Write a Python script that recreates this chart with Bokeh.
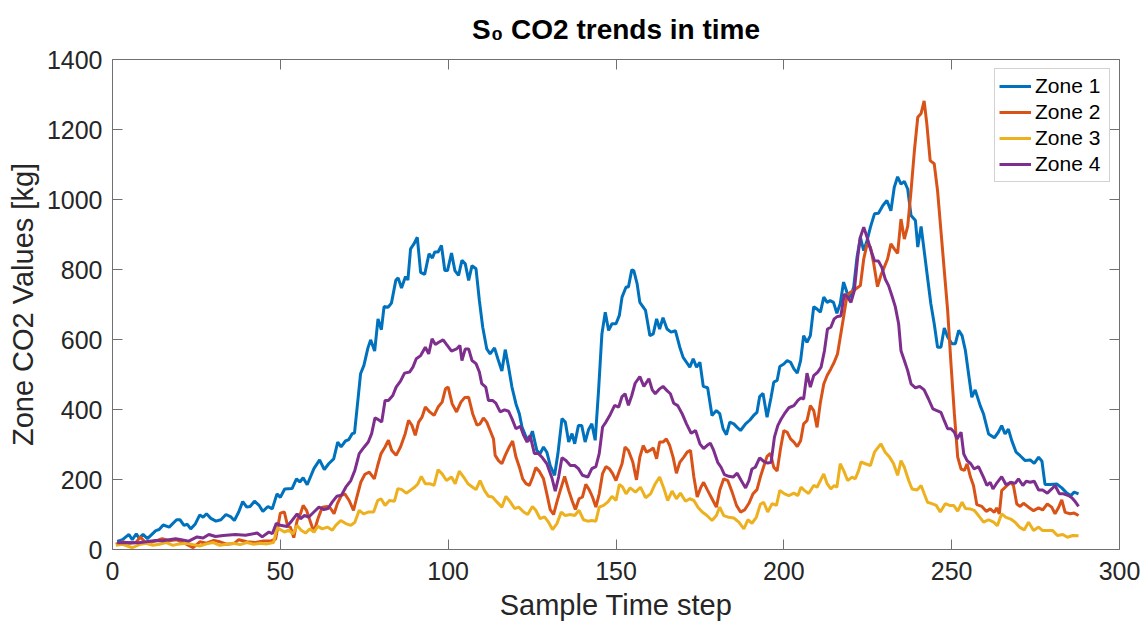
from bokeh.plotting import figure
from bokeh.models import Range1d, LinearAxis, FixedTicker, Legend, LegendItem, CustomLabelingPolicy
from bokeh.embed import file_html
from bokeh.resources import INLINE

# ---------------- data ----------------
zone1_x = [1.4, 3, 4.9, 5.9, 7.1, 7.9, 9.1, 10.4, 12.9, 13.9, 15.1, 16.9, 19.1, 20.1, 21.3, 22.3, 23.3, 24.6,
           26.0, 27.0, 28.0, 29.3, 30.8, 32.3, 33.8, 35.3, 36.3, 37.6, 38.8, 40.0, 41.0, 42.3, 43.6, 44.8, 46.3,
           47.6, 49.0, 50.0, 51.3, 53.5, 54.8, 55.8, 56.8, 58, 60, 61.7, 63.1, 64.4, 65.9, 67.1, 68.1, 69.4, 70.4,
           71.4, 72.1, 73.1, 73.9, 74.9, 76.1, 76.9, 78.1, 79.1, 80.1, 80.9, 82.1, 83.1, 84.4, 85.1, 86.1, 87.3,
           88, 88.8, 89.8, 90.8, 91.8, 93, 94.3, 95.3, 96, 97, 98, 99, 99.8, 101, 102, 103.1, 104.1, 105.1, 106.1,
           107.1, 108.3, 109.3, 110.3, 111.5, 112.5, 113.8, 114.8, 116, 117, 118, 119, 120.2, 121.2, 122, 123, 124,
           125.1, 126.4, 127.4, 128.4, 129.4, 130.4, 131.7, 132.7, 133.9, 134.9, 135.9, 136.9, 137.7, 138.8,
           139.8, 140.8, 141.8, 142.8, 143.8, 144.8, 145.8, 146.8, 147.8, 148.8, 150, 151, 151.8, 153, 153.7,
           154.7, 155.3, 156.3, 157.1, 158.8, 160.1, 161.1, 162.1, 163, 164, 165.2, 166.4, 167.7, 169, 170, 171,
           172, 173, 174, 175, 176, 177.3, 178.6, 179.9, 180.9, 181.9, 182.9, 183.9, 185.1, 186.1, 187.1, 188.6,
           189.9, 191, 192, 192.8, 193.8, 195, 196.2, 197, 198, 198.8, 200, 201, 202, 203, 204, 205, 205.9, 206.9,
           207.9, 208.9, 209.9, 210.9, 211.9, 212.9, 213.8, 214.8, 215.8, 216.8, 217.8, 218.8, 219.8, 220.8,
           221.8, 222.8, 223.8, 224.8, 225.8, 227, 228.2, 229.5, 230.7, 231.9, 232.9, 233.9, 234.9, 235.9, 236.9,
           237.9, 239.2, 239.9, 240.9, 241.8, 242.8, 243.8, 244.8, 245.8, 246.8, 247.8, 248.8, 250.1, 251.1,
           252.1, 253.1, 254.1, 255.1, 256.0, 257.0, 258.5, 259.5, 261, 262.7, 263.9, 264.9, 265.9, 266.9, 267.9,
           269.2, 270.4, 271.9, 273.4, 274.6, 275.9, 276.9, 277.8, 279.3, 281.3, 282.8, 284.3, 285.5, 286.5, 287.8]
zone1_y = [23, 28, 43, 28, 45, 32, 43, 31, 54, 57, 70, 64, 85, 85, 69, 72, 59, 72,
           99, 92, 102, 89, 81, 85, 100, 93, 83, 107, 137, 121, 123, 138, 127, 109, 123,
           116, 159, 149, 173, 174, 202, 193, 205, 185, 231, 256, 228, 245, 259, 307, 293, 310, 314,
           331, 333, 426, 502, 526, 576, 599, 567, 659, 628, 694, 692, 704, 769, 776, 747, 780,
           770, 859, 873, 892, 792, 786, 845, 833, 850, 850, 869, 797, 797, 847, 797, 783, 826, 816, 769,
           811, 802, 711, 635, 573, 559, 576, 545, 510, 571, 521, 464, 416, 388, 350, 326, 310,
           338, 283, 274, 293, 278, 240, 212, 274, 374, 364, 307, 331, 302, 354,
           354, 307, 342, 359, 312, 454, 616, 678, 626, 645, 645, 669, 721, 750, 750,
           799, 797, 759, 706, 683, 611, 616, 659, 630, 662, 630, 621, 625, 578, 549, 535,
           521, 545, 521, 535, 466, 462, 383, 397, 388, 345, 328, 364, 359, 349, 340, 359,
           370, 383, 392, 437, 446, 378, 435, 478, 483, 523, 530, 540, 535, 516, 504, 540, 611, 592,
           611, 694, 687, 678, 721, 706, 711, 706, 675, 702, 764, 735, 721, 749,
           835, 892, 854, 883, 921, 959, 961, 983, 997, 968, 1035, 1065, 1044, 1052, 1030,
           954, 940, 864, 923, 854, 778, 702, 645, 578, 578, 633, 607, 588, 588,
           626, 611, 568, 497, 435, 456, 411, 387, 330, 319, 335, 354, 330, 344, 311,
           278, 268, 254, 256, 246, 264, 252, 186, 186, 187, 176, 161, 154, 164, 159]

zone2_x = [1, 3, 5, 7, 8.3, 10, 12, 14.8, 17, 19, 21, 23, 24, 26, 28, 30.2, 32, 34, 36.2, 37.6, 40, 42.6, 45,
           47.4, 48.6, 50, 51.2, 52.2, 53, 54, 55, 56, 56.8, 57.8, 59, 60, 61.2, 62.5, 64, 65, 66, 67, 68.2, 69.2,
           70.5, 71.8, 72.8, 74, 75.2, 76.5, 78, 79, 80, 81.2, 82.2, 83.2, 84.5, 85.8, 87.2, 88.2, 89.2, 90.2,
           91.2, 92.2, 93.2, 94.5, 95.8, 97, 98.2, 99.2, 100, 101.2, 102.5, 103.8, 104.9, 106.1, 107.3, 108.6,
           109.5, 110.5, 111.5, 112.5, 113.5, 114, 115, 116, 117, 118.2, 119.2, 120.2, 121.2, 122.2, 123.2, 124.2,
           125.2, 126.1, 127.1, 128.4, 129.4, 130.4, 131.4, 132.4, 133.4, 134.7, 135.9, 136.9, 137.9, 139, 140,
           141, 142, 143, 144, 145, 146, 147, 148, 149, 150, 151, 151.8, 152.7, 153.7, 155, 156.1, 157.1, 158.1,
           159.1, 160.1, 161.1, 162.1, 163, 164, 165, 166, 167, 168, 169, 170.2, 171.2, 172.2, 173.2, 174.2,
           175.2, 176.1, 177.3, 178.6, 179.9, 180.9, 182.1, 183.3, 184.6, 185.9, 187.1, 188.3, 189.6, 190.8, 192,
           193, 194, 195, 196, 197, 198, 199, 200, 201, 202, 203, 204, 205, 205.9, 206.9, 207.9, 208.9, 209.9,
           210.9, 211.9, 212.9, 214, 215, 216, 216.8, 217.8, 218.8, 219.8, 220.8, 221.8, 222.8, 223.8, 224.8,
           225.8, 226.8, 227.9, 228.9, 229.9, 230.9, 231.9, 232.9, 233.9, 234.9, 235.9, 236.9, 237.9, 238.9,
           239.9, 240.9, 241.8, 242.6, 243.6, 244.8, 245.8, 246.8, 247.8, 248.8, 249.8, 250.8, 251.8, 252.8,
           253.8, 254.6, 255.6, 256.5, 257.5, 259, 260.3, 261.5, 262.7, 263.4, 264.2, 264.9, 266.2, 267.6, 268.4,
           269.4, 270.4, 271.4, 272.9, 274.4, 275.9, 277.1, 278.5, 279.8, 280.8, 281.8, 282.8, 283.8, 285.3,
           286.5, 287.8]
zone2_y = [15, 22, 18, 20, 36, 18, 22, 31, 25, 28, 20, 10, 5, 22, 18, 26, 22, 15, 17, 28, 22, 20, 24,
           25, 30, 104, 107, 66, 64, 34, 83, 102, 126, 112, 78, 50, 88, 121, 123, 117, 102, 131, 155, 159,
           140, 112, 150, 193, 215, 221, 202, 240, 274, 293, 312, 283, 269, 293, 331, 369, 355, 326,
           364, 378, 407, 393, 383, 407, 421, 459, 464, 416, 393, 421, 434, 435, 388, 355,
           359, 376, 364, 340, 316, 269, 254, 245, 269, 293, 310, 264, 236, 202, 188, 183,
           207, 234, 224, 202, 159, 114, 100, 136, 169, 209, 169, 140, 114, 145, 150,
           186, 171, 150, 121, 159, 217, 237, 231, 217, 197, 224, 245, 293, 283, 250, 199, 264, 297,
           278, 283, 290, 259, 307, 307, 316, 297, 264, 218, 249, 264, 278, 283, 207, 150,
           176, 192, 169, 145, 121, 169, 202, 197, 164, 126, 107, 113, 132, 159, 171,
           207, 237, 266, 275, 235, 224, 288, 340, 335, 316, 307, 294, 311, 359, 368, 411, 397, 349,
           421, 473, 497, 516, 535, 559, 606, 664, 725, 735, 740, 747, 754, 830, 873,
           864, 816, 751, 783, 806, 830, 873, 859, 846, 944, 887, 923, 1025, 1140,
           1235, 1246, 1282, 1216, 1111, 1102, 1025, 911, 797, 683, 530, 388, 264, 230,
           226, 245, 207, 183, 128, 123, 109, 116, 106, 119, 102, 168, 180, 192, 183,
           130, 123, 132, 121, 111, 119, 113, 130, 121, 102, 119, 142, 106, 102,
           104, 97]

zone3_x = [1, 3, 5.9, 8, 10, 12, 14, 16, 18, 20, 22, 24, 26, 28, 30, 32, 34, 36, 38, 40, 42, 44, 46, 48, 49, 50,
           51.2, 52.5, 53.8, 55, 56.2, 57.5, 58.8, 60, 61.2, 62.5, 64, 65.5, 66.5, 68, 69.5, 71, 72.2, 73.5, 74.8,
           76.2, 77.8, 79, 80, 81.2, 82.5, 84, 85, 86.2, 87.5, 89, 90, 91, 92, 93.2, 94.5, 95.8, 97, 98.2, 99.5,
           101, 102.1, 103.3, 104.6, 105.9, 107.3, 108.3, 109.5, 110.8, 112, 113.2, 114.5, 116, 117.2, 118.5,
           119.8, 121, 122.5, 123.7, 125.1, 126.1, 127.4, 128.7, 129.9, 131.1, 132.4, 133.7, 134.9, 136.4, 137.7,
           139, 140.3, 141.6, 142.8, 144, 145, 146.3, 147.6, 148.8, 150, 151, 152, 153, 154.2, 155.8, 157.3, 158.8,
           160.3, 161.7, 163, 164.2, 165.4, 166.7, 168, 169.2, 170.7, 172, 173.2, 174.4, 175.7, 177.1, 178.6,
           179.9, 180.9, 182.1, 183.6, 185.1, 186.6, 188.1, 189.3, 190.5, 191.8, 193, 194, 195.2, 196.5, 197.8,
           198.8, 200.2, 201.5, 203, 204.2, 205.1, 206.1, 207.4, 208.9, 209.9, 210.9, 211.9, 212.9, 214, 215,
           215.8, 216.8, 217.8, 219, 220.3, 221.3, 222.3, 223, 224.3, 225.8, 227, 228.2, 228.9, 230.2, 231.5,
           232.7, 233.9, 234.9, 235.9, 237.2, 238.2, 239.7, 240.9, 241.8, 242.8, 244.1, 245.4, 246.6, 248.1,
           249.4, 250.6, 251.8, 253.1, 254.1, 255.5, 256.7, 258, 259.5, 261, 262.5, 263.6, 264.9, 266.2, 267.6,
           268.9, 270.2, 271.6, 272.9, 274.4, 275.9, 277.1, 278.5, 280.1, 281.5, 283.1, 284.5, 286.1, 287.8]
zone3_y = [12, 15, 5, 14, 18, 12, 15, 20, 12, 16, 18, 14, 10, 16, 20, 12, 15, 18, 14, 20, 15, 18, 16, 20, 62, 57,
           50, 55, 45, 69, 55, 47, 59, 50, 66, 59, 64, 55, 69, 83, 74, 69, 78, 112, 102,
           107, 107, 140, 145, 126, 140, 138, 174, 171, 161, 171, 178, 188, 209, 188, 188, 183, 228, 216, 197,
           207, 188, 224, 207, 188, 178, 171, 197, 169, 152, 150, 136, 121, 152, 136,
           117, 121, 107, 100, 123, 112, 88, 93, 78, 57, 74, 107, 97, 100, 97,
           112, 85, 81, 83, 81, 121, 126, 136, 152, 140, 186, 178, 159, 176, 164, 178, 148,
           159, 188, 207, 176, 140, 167, 145, 161, 138, 145, 140, 121, 107, 97, 83,
           97, 121, 97, 92, 90, 78, 59, 85, 75, 92, 129, 135, 107, 131, 126,
           169, 159, 154, 161, 154, 178, 169, 160, 183, 178, 197, 216, 188, 173, 183,
           178, 245, 226, 197, 207, 202, 226, 250, 245, 240, 278, 293, 302, 278, 264,
           245, 212, 254, 235, 197, 173, 170, 183, 160, 135, 131, 126, 107, 131,
           126, 126, 110, 135, 117, 116, 112, 97, 78, 85, 78, 68, 102, 92, 87,
           78, 64, 56, 78, 54, 64, 54, 54, 54, 40, 43, 35, 40, 39]

zone4_x = [1.4, 4, 7.8, 10, 12.8, 15, 18.8, 20.5, 22.7, 25.2, 27, 28.7, 30.7, 33, 36.6, 39.6, 43.1, 44.6, 46.6,
           47.6, 48.8, 50, 52, 53.5, 55, 56, 57.2, 58.5, 60, 61.5, 63, 64.2, 65.5, 66.8, 68.2, 69.5, 71, 72.2,
           73.5, 75, 76.2, 77.2, 78.2, 79.2, 80.2, 81.2, 82.2, 83.5, 84.5, 85.8, 87, 88.5, 89.5, 90.5, 91.8, 93.2,
           94.2, 95.2, 96.2, 97.2, 98.5, 99.5, 101, 102.5, 103.5, 104.1, 105.1, 106.1, 107.1, 108.3, 109.3, 110,
           111.2, 112, 113.2, 114.2, 115.5, 116.8, 118, 119, 120.2, 121.5, 122.5, 123.5, 124.4, 125.7, 126.9,
           128.1, 129.4, 130.9, 131.9, 132.9, 133.9, 135.1, 136.4, 137.7, 138.8, 140, 141.6, 142.8, 144, 145, 146,
           147, 148.3, 149.6, 150.8, 151.8, 152.7, 153.7, 154.7, 155.7, 157.1, 158.3, 159.8, 160.8, 161.7, 163,
           164, 165.2, 166.2, 167.2, 168.4, 169.7, 171, 172.4, 173.7, 175, 176.1, 177.1, 178.1, 179.1, 180.3,
           181.3, 182.3, 183.6, 184.9, 186.1, 187.3, 188.6, 189.6, 190.5, 191.5, 192.8, 194, 195.2, 196.2, 197.2,
           198.2, 199.2, 200.2, 201.5, 203, 204.2, 205.1, 205.9, 206.9, 207.9, 208.9, 210.1, 211.1, 212.1, 213,
           214, 215, 216, 217, 218, 219, 220, 221, 222, 222.8, 223.8, 224.8, 225.8, 227, 228.2, 229.2, 230.2,
           231.2, 232.2, 233.2, 234.2, 234.9, 235.9, 236.9, 237.9, 239.2, 240.5, 241.8, 243.1, 244.4, 245.6,
           246.8, 247.8, 248.8, 249.8, 250.8, 251.6, 252.8, 253.6, 254.6, 255.7, 256.7, 258, 259.5, 260.5, 261.5,
           262.3, 263.6, 264.9, 266.2, 267.6, 268.9, 269.9, 271.2, 272.2, 273.4, 274.6, 275.9, 277.1, 278.5,
           279.8, 280.8, 282.1, 283.3, 284.8, 285.8, 286.8, 287.8]
zone4_y = [19, 20, 19, 22, 26, 25, 31, 28, 24, 36, 33, 43, 37, 40, 43, 41, 47, 36, 50,
           45, 75, 69, 66, 83, 102, 88, 97, 93, 107, 121, 114, 117, 136, 152, 155, 178, 197, 226,
           274, 293, 307, 331, 376, 371, 364, 426, 426, 440, 464, 481, 504, 507, 521, 545, 554, 578,
           559, 602, 586, 592, 599, 586, 567, 573, 583, 540, 573, 573, 540, 531, 507, 474,
           464, 426, 426, 418, 393, 399, 395, 374, 345, 352, 326, 307, 326, 274, 274,
           262, 245, 205, 167, 207, 262, 254, 240, 240, 231, 212, 207, 231, 237, 274, 350,
           364, 386, 412, 407, 437, 445, 412, 440, 475, 494, 466, 488, 456, 445, 459,
           466, 454, 445, 418, 411, 388, 359, 332, 340, 302, 288, 297, 304, 283, 249,
           235, 214, 209, 207, 218, 197, 176, 197, 230, 235, 262, 252, 247, 249, 321,
           354, 373, 388, 405, 411, 426, 433, 430, 504, 464, 497, 507, 521, 568, 630,
           635, 659, 666, 667, 730, 721, 706, 740, 835, 892, 921, 892, 859, 825, 824, 806, 773,
           754, 725, 694, 645, 568, 540, 511, 473, 462, 466, 456, 430, 402, 397,
           392, 368, 345, 345, 335, 316, 335, 273, 254, 245, 230, 237, 206, 183, 192,
           173, 192, 208, 185, 192, 189, 202, 183, 195, 192, 195, 170, 170, 161,
           173, 183, 159, 159, 154, 148, 137, 123]

series_names = ["Zone 1", "Zone 2", "Zone 3", "Zone 4"]
series_colors = ["#0072BD", "#D95319", "#EDB120", "#7E2F8E"]
x_ticks = [0, 50, 100, 150, 200, 250, 300]
y_ticks = [0, 200, 400, 600, 800, 1000, 1200, 1400]
title_text = "S\u2080 CO2 trends in time"

FONT = "Liberation Sans"
AXIS_COLOR = "#707070"
TEXT_COLOR = "#262626"

p = figure(width=1148, height=631, output_backend="svg", toolbar_location=None,
           x_range=Range1d(0, 300), y_range=Range1d(0, 1400),
           min_border_left=112, min_border_right=29, min_border_top=59, min_border_bottom=82,
           background_fill_color="white", border_fill_color="white")
p.outline_line_color = None
p.grid.visible = False

p.title.text = title_text
p.title.align = "center"
p.title.text_font = FONT
p.title.text_font_style = "bold"
p.title.text_font_size = "28px"
p.title.text_color = "#000000"
p.title.standoff = 21

xs = [zone1_x, zone2_x, zone3_x, zone4_x]
ys = [zone1_y, zone2_y, zone3_y, zone4_y]
renderers = []
for x, y, c in zip(xs, ys, series_colors):
    renderers.append(p.line(x, y, line_color=c, line_width=3))


def style_axis(ax, show_labels=True):
    ax.axis_line_color = AXIS_COLOR
    ax.axis_line_width = 1
    ax.major_tick_line_color = AXIS_COLOR
    ax.major_tick_in = 10
    ax.major_tick_out = 0
    ax.minor_tick_line_color = None
    ax.major_label_text_font = FONT
    ax.major_label_text_color = TEXT_COLOR
    if show_labels:
        ax.major_label_text_font_size = "25px"
    else:
        ax.major_label_text_font_size = "1px"
        ax.major_label_policy = CustomLabelingPolicy(code="return []")
        ax.major_label_standoff = 0
    ax.axis_label_text_font = FONT
    ax.axis_label_text_font_style = "normal"
    ax.axis_label_text_color = TEXT_COLOR
    ax.axis_label_text_font_size = "29px"


xa = p.xaxis[0]
ya = p.yaxis[0]
xa.ticker = FixedTicker(ticks=x_ticks)
ya.ticker = FixedTicker(ticks=y_ticks)
style_axis(xa)
style_axis(ya)
xa.axis_label = "Sample Time step"
ya.axis_label = "Zone CO2 Values [kg]"
xa.major_label_standoff = 12
ya.major_label_standoff = 10
xa.axis_label_standoff = 6
ya.axis_label_standoff = 5

ra = LinearAxis(ticker=FixedTicker(ticks=y_ticks))
ta = LinearAxis(ticker=FixedTicker(ticks=x_ticks))
style_axis(ra, show_labels=False)
style_axis(ta, show_labels=False)
p.add_layout(ra, "right")
p.add_layout(ta, "above")

legend = Legend(items=[LegendItem(label=n, renderers=[r]) for n, r in zip(series_names, renderers)],
                location="top_right", margin=9, padding=4, spacing=0,
                glyph_width=32, glyph_height=26, label_height=26, label_width=70, label_standoff=4,
                label_text_font=FONT, label_text_font_size="21px", label_text_color="#000000",
                border_line_color="#a6a6a6", border_line_width=1,
                background_fill_color="white", background_fill_alpha=1.0)
p.add_layout(legend)

open("out.html", "w").write(file_html(p, INLINE))
